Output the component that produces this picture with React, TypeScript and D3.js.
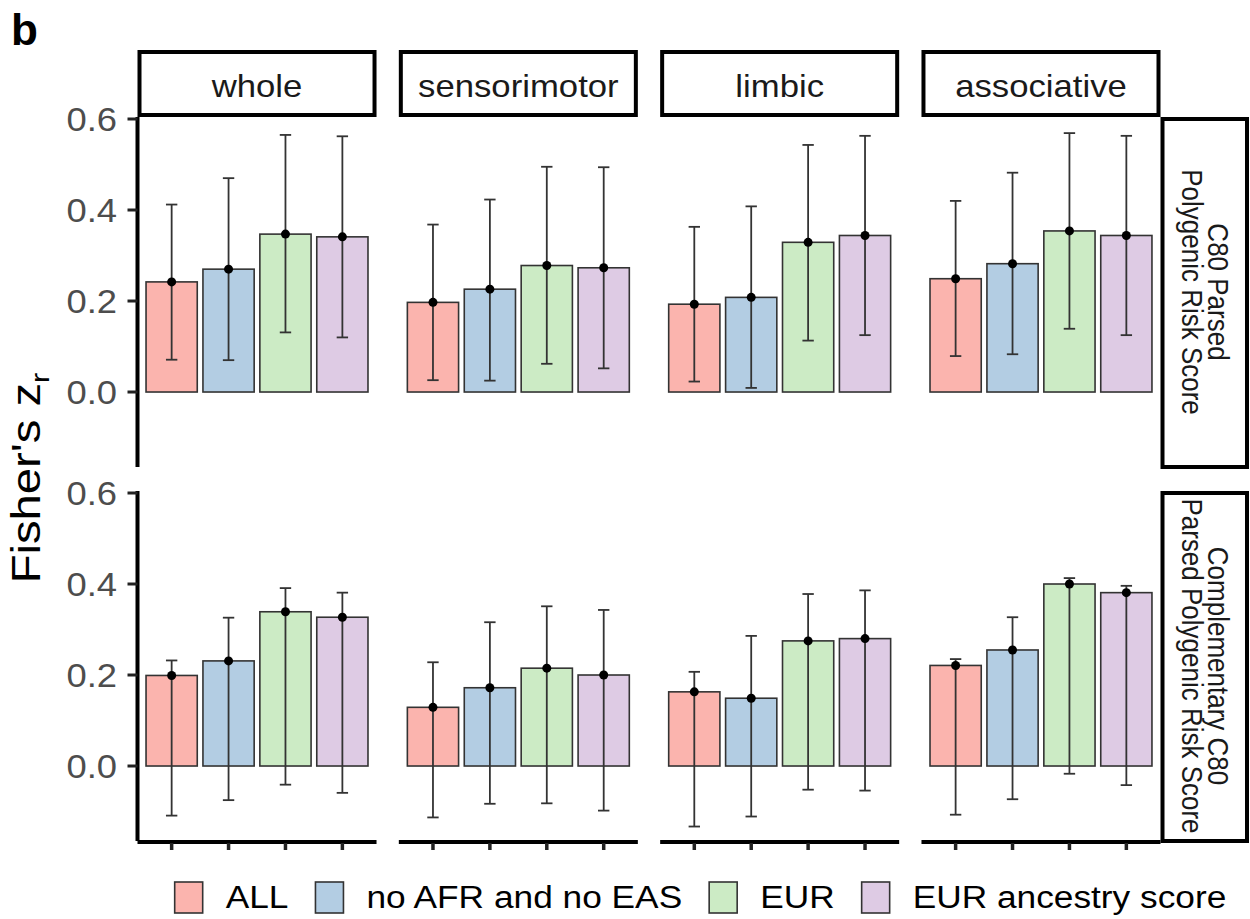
import React, { useEffect, useRef } from "react";
import * as d3 from "d3";

const regions = ["whole", "sensorimotor", "limbic", "associative"];
const scoreLabels = [
  ["C80 Parsed", "Polygenic Risk Score"],
  ["Complementary C80", "Parsed Polygenic Risk Score"],
];
const groups = ["ALL", "no AFR and no EAS", "EUR", "EUR ancestry score"];
const colors = ["#FBB4AE", "#B3CDE3", "#CCEBC5", "#DECBE4"];
const yTicks = [0, 0.2, 0.4, 0.6];

// C80 Parsed Polygenic Risk Score (rows = regions, cols = groups)
const c80Est = [
  [0.242, 0.27, 0.347, 0.341],
  [0.197, 0.226, 0.278, 0.273],
  [0.193, 0.208, 0.329, 0.344],
  [0.249, 0.282, 0.354, 0.344],
];
const c80Lo = [
  [0.071, 0.07, 0.131, 0.12],
  [0.026, 0.025, 0.062, 0.052],
  [0.023, 0.009, 0.113, 0.125],
  [0.079, 0.083, 0.139, 0.125],
];
const c80Hi = [
  [0.412, 0.47, 0.565, 0.562],
  [0.368, 0.423, 0.495, 0.494],
  [0.363, 0.408, 0.543, 0.563],
  [0.42, 0.482, 0.569, 0.563],
];

// Complementary C80 Parsed Polygenic Risk Score
const compEst = [
  [0.199, 0.231, 0.339, 0.327],
  [0.129, 0.172, 0.215, 0.2],
  [0.163, 0.149, 0.275, 0.28],
  [0.221, 0.255, 0.4, 0.381],
];
const compLo = [
  [-0.109, -0.075, -0.041, -0.059],
  [-0.113, -0.083, -0.082, -0.098],
  [-0.133, -0.111, -0.052, -0.054],
  [-0.107, -0.073, -0.017, -0.042],
];
const compHi = [
  [0.232, 0.326, 0.391, 0.381],
  [0.228, 0.316, 0.351, 0.343],
  [0.207, 0.286, 0.378, 0.386],
  [0.235, 0.327, 0.413, 0.396],
];

const rowsData = [
  { est: c80Est, lo: c80Lo, hi: c80Hi },
  { est: compEst, lo: compLo, hi: compHi },
];

const FONT = "'Liberation Sans', Arial, Helvetica, sans-serif";
const SX = 1.12; // horizontal stretch of the original picture

const Chart = () => {
  const ref = useRef<SVGSVGElement>(null);

  useEffect(() => {
    const W = 1250;
    const H = 919;
    const left = 137.5;
    const right = 1160.5;
    const gap = 22.3;
    const pw = (right - left - 3 * gap) / 4;
    const rowTops = [117, 491];
    const ph = 350;

    const svg = d3.select(ref.current).attr("width", W).attr("height", H);
    svg.selectAll("*").remove();
    svg.append("rect").attr("width", W).attr("height", H).attr("fill", "#fff");

    const txt = (
      g: any,
      s: string,
      x: number,
      y: number,
      size: number,
      anchor: string,
      tf = `scale(${SX},1)`
    ) =>
      g
        .append("text")
        .attr("transform", `translate(${x},${y}) ${tf}`)
        .attr("font-family", FONT)
        .attr("font-size", size)
        .attr("text-anchor", anchor)
        .text(s);

    // panel label
    txt(svg, "b", 11, 45, 44, "start", "").attr("font-weight", "bold");

    // y title
    const yt = svg
      .append("text")
      .attr("transform", `translate(39.5,478) rotate(-90) scale(1.18,1)`)
      .attr("font-family", FONT)
      .attr("font-size", 40)
      .attr("text-anchor", "middle");
    yt.append("tspan").text("Fisher's z");
    yt.append("tspan").attr("font-size", 26).attr("dy", 9).text("r");

    const x = d3
      .scaleBand<string>()
      .domain(groups)
      .paddingInner(0.1)
      .paddingOuter(0.15);

    rowsData.forEach((rd, r) => {
      const top = rowTops[r];
      const y = d3.scaleLinear().domain([-0.1648, 0.6044]).range([top + ph, top]);

      regions.forEach((reg, c) => {
        const px = left + c * (pw + gap);
        x.range([px, px + pw]);
        const g = svg.append("g");

        const rows = groups.map((gr, i) => ({
          gr,
          i,
          est: rd.est[c][i],
          lo: rd.lo[c][i],
          hi: rd.hi[c][i],
        }));

        g.selectAll("rect.bar")
          .data(rows)
          .join("rect")
          .attr("class", "bar")
          .attr("x", (d) => x(d.gr)!)
          .attr("width", x.bandwidth())
          .attr("y", (d) => y(Math.max(0, d.est)))
          .attr("height", (d) => Math.abs(y(d.est) - y(0)))
          .attr("fill", (d) => colors[d.i])
          .attr("stroke", "#333")
          .attr("stroke-width", 1.6);

        const cx = (d: any) => x(d.gr)! + x.bandwidth() / 2;
        const capW = (x.step() * 0.2) / 2;
        const eb = g.selectAll("g.eb").data(rows).join("g").attr("class", "eb")
          .attr("stroke", "#333").attr("stroke-width", 1.8);
        eb.append("line")
          .attr("x1", cx).attr("x2", cx)
          .attr("y1", (d) => y(d.lo)).attr("y2", (d) => y(d.hi));
        eb.append("line")
          .attr("x1", (d) => cx(d) - capW).attr("x2", (d) => cx(d) + capW)
          .attr("y1", (d) => y(d.lo)).attr("y2", (d) => y(d.lo));
        eb.append("line")
          .attr("x1", (d) => cx(d) - capW).attr("x2", (d) => cx(d) + capW)
          .attr("y1", (d) => y(d.hi)).attr("y2", (d) => y(d.hi));

        g.selectAll("circle")
          .data(rows)
          .join("circle")
          .attr("cx", cx)
          .attr("cy", (d) => y(d.est))
          .attr("r", 4.5)
          .attr("fill", "#000");

        // top strips
        if (r === 0) {
          g.append("rect")
            .attr("x", px + 2).attr("y", 52)
            .attr("width", pw - 4).attr("height", 63)
            .attr("fill", "#fff").attr("stroke", "#000").attr("stroke-width", 4);
          txt(g, reg, px + pw / 2, 96.5, 31, "middle").attr("fill", "#1A1A1A");
        }

        // y axis on first column
        if (c === 0) {
          g.append("line")
            .attr("x1", left).attr("x2", left)
            .attr("y1", top).attr("y2", top + ph)
            .attr("stroke", "#000").attr("stroke-width", 4);
          yTicks.forEach((t) => {
            g.append("line")
              .attr("x1", left - 10).attr("x2", left)
              .attr("y1", y(t)).attr("y2", y(t))
              .attr("stroke", "#222").attr("stroke-width", 3);
            txt(g, d3.format(".1f")(t), 117, y(t) + 11.7, 32.5, "end").attr("fill", "#4D4D4D");
          });
        }

        // x axis on bottom row
        if (r === 1) {
          g.append("line")
            .attr("x1", px).attr("x2", px + pw)
            .attr("y1", top + ph + 1).attr("y2", top + ph + 1)
            .attr("stroke", "#000").attr("stroke-width", 4);
          groups.forEach((gr) => {
            const tx = x(gr)! + x.bandwidth() / 2;
            g.append("line")
              .attr("x1", tx).attr("x2", tx)
              .attr("y1", top + ph + 2).attr("y2", top + ph + 9)
              .attr("stroke", "#222").attr("stroke-width", 3.5);
          });
        }
      });

      // right strip
      const sx0 = right;
      const sw = 1249 - right;
      svg.append("rect")
        .attr("x", sx0 + 2).attr("y", top + 2)
        .attr("width", sw - 4).attr("height", ph - 2)
        .attr("fill", "#fff").attr("stroke", "#000").attr("stroke-width", 4);
      const st = svg.append("text")
        .attr("transform", `translate(1208.3,${top + ph / 2}) rotate(90) scale(1,${SX})`)
        .attr("font-family", FONT)
        .attr("font-size", 26)
        .attr("text-anchor", "middle")
        .attr("fill", "#1A1A1A");
      scoreLabels[r].forEach((line, i) => {
        st.append("tspan").attr("x", 0).attr("dy", i === 0 ? 0 : 23.75).text(line);
      });
    });

    // legend
    const lg = svg.append("g");
    const keyW = 28;
    const keyH = 31;
    const items = groups.map((gr, i) => {
      const t = txt(lg, gr, 0, 908, 31.5, "start");
      const w = (t.node() as SVGTextElement).getComputedTextLength() * SX;
      return { t, w, i };
    });
    const total = d3.sum(items, (d) => keyW + 23 + d.w) + 27 * (items.length - 1);
    let cur = 700.5 - total / 2;
    items.forEach((it) => {
      lg.append("rect")
        .attr("x", cur).attr("y", 882)
        .attr("width", keyW).attr("height", keyH)
        .attr("fill", colors[it.i]).attr("stroke", "#333").attr("stroke-width", 1.6);
      it.t.attr("transform", `translate(${cur + keyW + 23},908) scale(${SX},1)`);
      cur += keyW + 23 + it.w + 27;
    });
  }, []);

  return <svg ref={ref} style={{ position: "absolute", left: 0, top: 0 }}></svg>;
};

export default function App() {
  return <Chart />;
}
